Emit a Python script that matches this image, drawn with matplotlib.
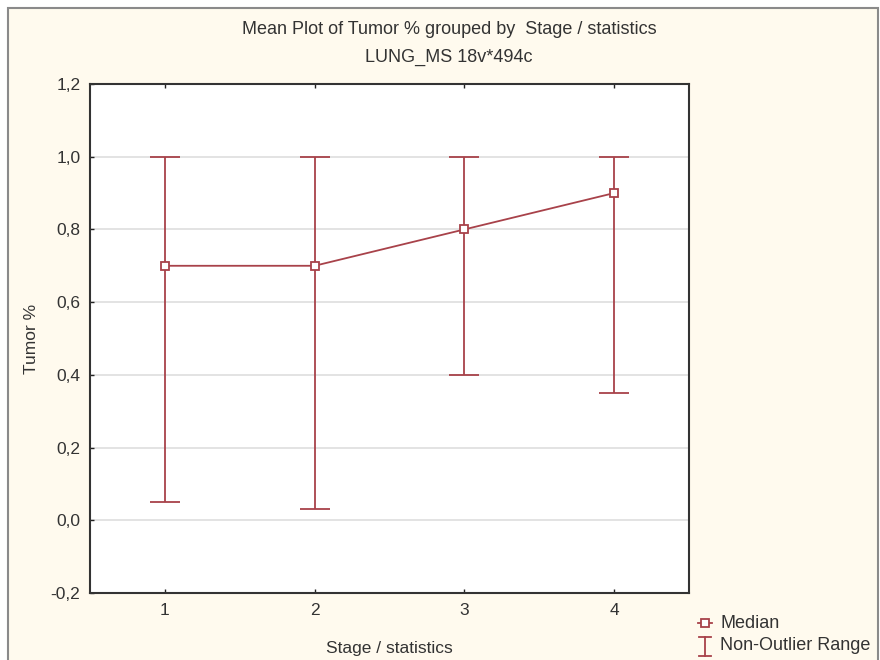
import numpy as np
import matplotlib.pyplot as plt
from matplotlib.patches import Rectangle
from matplotlib.lines import Line2D

plt.rcParams['font.family'] = ['Liberation Sans', 'DejaVu Sans']

stages = [1, 2, 3, 4]
median = [0.70, 0.70, 0.80, 0.90]
range_lo = [0.05, 0.03, 0.40, 0.35]
range_hi = [1.00, 1.00, 1.00, 1.00]
yticks = [-0.2, 0.0, 0.2, 0.4, 0.6, 0.8, 1.0, 1.2]
ytick_labels = ['-0,2', '0,0', '0,2', '0,4', '0,6', '0,8', '1,0', '1,2']

red = '#a8424a'
cream = '#fffaee'
txt = '#333333'
fs = 12.5

fig = plt.figure(figsize=(8.8, 6.6), dpi=100, facecolor='white')
# outer panel
fig.patches.append(Rectangle((8/880, -0.05), (878-8)/880, 1 - 8/660 + 0.05,
                             transform=fig.transFigure, facecolor=cream,
                             edgecolor='#8a8a8a', linewidth=1.5, zorder=-5))

ax = fig.add_axes([90/880, 1-593/660, (689-90)/880, (593-84)/660])
ax.set_zorder(2)
ax.set_facecolor('white')

med = np.array(median)
lo = med - np.array(range_lo)
hi = np.array(range_hi) - med
ax.errorbar(stages, median, yerr=[lo, hi], fmt='none', ecolor=red,
            elinewidth=1.3, capsize=10.5, capthick=1.3, zorder=3)
ax.plot(stages, median, color=red, linewidth=1.3, marker='s', markersize=6,
        markerfacecolor='white', markeredgecolor=red, markeredgewidth=1.3, zorder=4)

ax.set_xlim(0.5, 4.5)
ax.set_ylim(-0.2, 1.2)
ax.set_xticks(stages)
ax.set_yticks(yticks)
ax.set_yticklabels(ytick_labels)
ax.tick_params(direction='in', length=3, width=1, colors='#222222', labelcolor=txt,
               labelsize=fs, top=True, pad=7)
for s in ax.spines.values():
    s.set_color('#333333')
    s.set_linewidth(1.5)
for y in [0.0, 0.2, 0.4, 0.6, 0.8, 1.0]:
    ax.axhline(y, color='#e0e0e0', linewidth=1.3, zorder=1)

ax.set_xlabel('Stage / statistics', fontsize=fs, color=txt, labelpad=17)
ax.set_ylabel('Tumor %', fontsize=fs, color=txt, labelpad=8)

fig.text(449/880, 1-29/660, 'Mean Plot of Tumor % grouped by  Stage / statistics',
         ha='center', va='center', fontsize=fs + 0.5, color=txt)
fig.text(449/880, 1-57/660, 'LUNG_MS 18v*494c', ha='center', va='center',
         fontsize=fs + 0.5, color=txt)

# legend drawn by hand (marker + cap symbol)
def fx(px):
    return px / 880

def fy(py):
    return 1 - py / 660

fig.add_artist(Line2D([fx(698), fx(712)], [fy(623), fy(623)], color=red, linewidth=1.3))
fig.add_artist(Line2D([fx(705)], [fy(623)], marker='s', markersize=6, color=red,
                      markerfacecolor='white', markeredgewidth=1.3))
fig.add_artist(Line2D([fx(705), fx(705)], [fy(637), fy(656)], color=red, linewidth=1.3))
fig.add_artist(Line2D([fx(699), fx(711)], [fy(637), fy(637)], color=red, linewidth=1.3))
fig.add_artist(Line2D([fx(699), fx(711)], [fy(656), fy(656)], color=red, linewidth=1.3))
fig.text(fx(720), fy(623), 'Median', ha='left', va='center', fontsize=fs + 0.5, color=txt)
fig.text(fx(720), fy(645), 'Non-Outlier Range', ha='left', va='center', fontsize=fs + 0.5, color=txt)

fig.savefig('out.png', dpi=100, facecolor='white')
